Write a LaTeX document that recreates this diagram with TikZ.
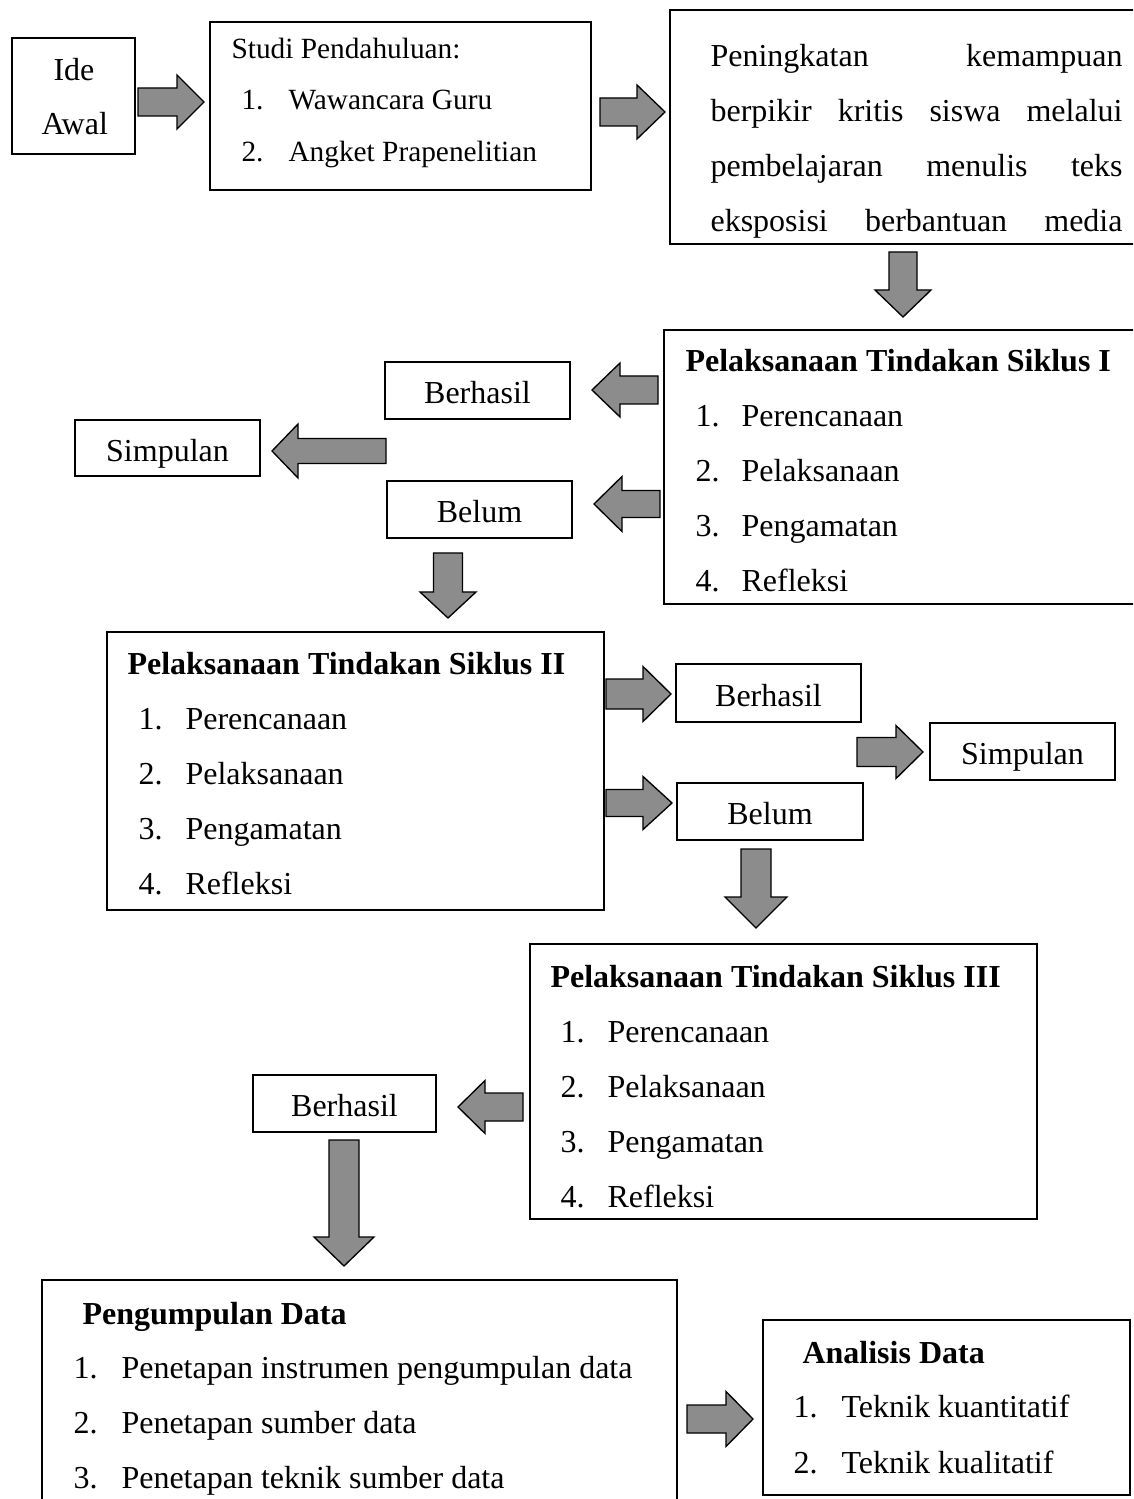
\documentclass[tikz,border=0pt]{standalone}
\usepackage{fontspec}
\setmainfont{Liberation Serif}
\usetikzlibrary{fit}
\definecolor{arrowgray}{RGB}{140,140,140}
\newcommand\harr[6]{% tail x, tip x, center y, body half, head half, head base x
  \filldraw[blockarrow] (#1,{#3-#4}) -- (#6,{#3-#4}) -- (#6,{#3-#5}) -- (#2,#3) -- (#6,{#3+#5}) -- (#6,{#3+#4}) -- (#1,{#3+#4}) -- cycle;}
\newcommand\varr[6]{% center x, tail y, tip y, body half, head half, head base y
  \filldraw[blockarrow] ({#1-#4},#2) -- ({#1-#4},#6) -- ({#1-#5},#6) -- (#1,#3) -- ({#1+#5},#6) -- ({#1+#4},#6) -- ({#1+#4},#2) -- cycle;}
\begin{document}
\begin{tikzpicture}[x=0.375pt,y=-0.375pt,
  box/.style={draw, line width=0.6pt, inner sep=0pt},
  blockarrow/.style={draw=black, line width=0.5pt, fill=arrowgray, line join=miter},
  txt/.style={anchor=base west, inner sep=0pt, yshift=-0.75pt, font=\fontsize{12}{14}\selectfont},
  ctxt/.style={anchor=base, inner sep=0pt, yshift=-0.4pt, font=\fontsize{12}{14}\selectfont},
  btxt/.style={anchor=base west, inner sep=0pt, yshift=-0.75pt, font=\fontsize{12}{14}\selectfont\bfseries},
  stxt/.style={anchor=base west, inner sep=0pt, yshift=-0.6pt, font=\fontsize{11}{13}\selectfont}]
\clip (0,0) rectangle (1133,1499);
\fill[white] (0,0) rectangle (1133,1499);

% ---- row 1
\node[box, fit={(12,38) (135,154)}] (ide) {};
\node[txt] at (53,79) {Ide};
\node[txt] at (41,133) {Awal};

\node[box, fit={(210,22) (591,190)}] (studi) {};
\node[stxt] at (231,57) {Studi Pendahuluan:};
\node[stxt] at (241,108) {1.};
\node[stxt] at (288,108) {Wawancara Guru};
\node[stxt] at (241,160) {2.};
\node[stxt] at (288,160) {Angket Prapenelitian};

\node[box, fit={(670,10) (1145,244)}] (goal) {};
\node[txt] at (710,65) {\makebox[154.5pt][s]{Peningkatan kemampuan}};
\node[txt] at (710,120) {\makebox[154.5pt][s]{berpikir kritis siswa melalui}};
\node[txt] at (710,175) {\makebox[154.5pt][s]{pembelajaran menulis teks}};
\node[txt] at (710,230) {\makebox[154.5pt][s]{eksposisi berbantuan media}};

\harr{138}{204}{102}{14}{27}{177}
\harr{600}{665}{112}{14}{27}{637}
\varr{903}{252}{317}{14}{28}{290}

% ---- siklus I
\node[box, fit={(664,330) (1145,604)}] (s1) {};
\node[btxt] at (685,370) {Pelaksanaan Tindakan Siklus I};
\node[txt] at (695,425) {1.}; \node[txt] at (741,425) {Perencanaan};
\node[txt] at (695,480) {2.}; \node[txt] at (741,480) {Pelaksanaan};
\node[txt] at (695,535) {3.}; \node[txt] at (741,535) {Pengamatan};
\node[txt] at (695,590) {4.}; \node[txt] at (741,590) {Refleksi};

\node[box, fit={(385,362) (570,419)}] (ber1) {};
\node[ctxt] at (477.5,402) {Berhasil};
\node[box, fit={(75,420) (260,476)}] (sim1) {};
\node[ctxt] at (167.5,460) {Simpulan};
\node[box, fit={(387,481) (572,538)}] (bel1) {};
\node[ctxt] at (479.5,521) {Belum};

\harr{658}{592}{390}{14}{27}{620}
\harr{660}{594}{504}{13.5}{27.5}{622}
\harr{386}{272}{451}{12.5}{27}{298}
\varr{448}{553}{618}{14.5}{28}{592}

% ---- siklus II
\node[box, fit={(107,632) (604,910)}] (s2) {};
\node[btxt] at (127,672) {Pelaksanaan Tindakan Siklus II};
\node[txt] at (138,727) {1.}; \node[txt] at (185,727) {Perencanaan};
\node[txt] at (138,782) {2.}; \node[txt] at (185,782) {Pelaksanaan};
\node[txt] at (138,837) {3.}; \node[txt] at (185,837) {Pengamatan};
\node[txt] at (138,892) {4.}; \node[txt] at (185,892) {Refleksi};

\node[box, fit={(676,664) (861,722)}] (ber2) {};
\node[ctxt] at (768.5,705) {Berhasil};
\node[box, fit={(677,783) (863,840)}] (bel2) {};
\node[ctxt] at (770,823) {Belum};
\node[box, fit={(930,723) (1115,780)}] (sim2) {};
\node[ctxt] at (1022.5,763) {Simpulan};

\harr{606}{671}{694}{15}{27.5}{643}
\harr{606}{672}{803}{13.5}{26.5}{643}
\harr{857}{923}{752}{14.5}{26.5}{896}
\varr{756}{849}{928}{15}{31}{897}

% ---- siklus III
\node[box, fit={(530,944) (1037,1219)}] (s3) {};
\node[btxt] at (550,985) {Pelaksanaan Tindakan Siklus III};
\node[txt] at (560,1040) {1.}; \node[txt] at (607,1040) {Perencanaan};
\node[txt] at (560,1095) {2.}; \node[txt] at (607,1095) {Pelaksanaan};
\node[txt] at (560,1150) {3.}; \node[txt] at (607,1150) {Pengamatan};
\node[txt] at (560,1205) {4.}; \node[txt] at (607,1205) {Refleksi};

\node[box, fit={(253,1075) (436,1132)}] (ber3) {};
\node[ctxt] at (344.5,1115) {Berhasil};

\harr{523}{458}{1107}{14}{26.5}{485}
\varr{344}{1140}{1266}{15}{30}{1237}

% ---- data
\node[box, fit={(42,1280) (677,1520)}] (kumpul) {};
\node[btxt] at (82,1322) {Pengumpulan Data};
\node[txt] at (73,1376) {1.}; \node[txt] at (121,1376) {Penetapan instrumen pengumpulan data};
\node[txt] at (73,1431) {2.}; \node[txt] at (121,1431) {Penetapan sumber data};
\node[txt] at (73,1486) {3.}; \node[txt] at (121,1486) {Penetapan teknik sumber data};

\node[box, fit={(763,1320) (1130,1495)}] (analisis) {};
\node[btxt] at (802,1361) {Analisis Data};
\node[txt] at (793,1415) {1.}; \node[txt] at (841,1415) {Teknik kuantitatif};
\node[txt] at (793,1471) {2.}; \node[txt] at (841,1471) {Teknik kualitatif};

\harr{687}{753}{1419}{14}{27.5}{726}
\end{tikzpicture}
\end{document}
